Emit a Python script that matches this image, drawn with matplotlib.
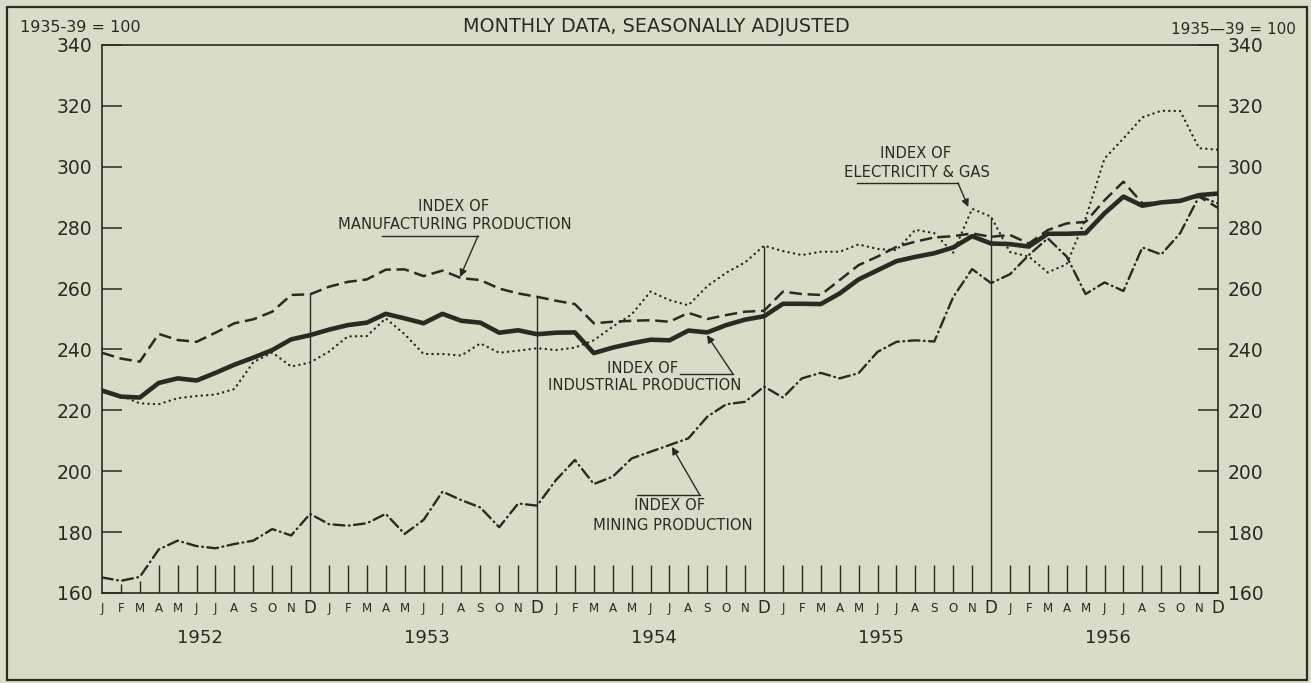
import numpy as np
import matplotlib
matplotlib.use("Agg")
import matplotlib.pyplot as plt
from matplotlib.transforms import blended_transform_factory
from matplotlib.patches import Rectangle

# ---------------- data ----------------
month_letters = ["J", "F", "M", "A", "M", "J", "J", "A", "S", "O", "N", "D"]
years = ["1952", "1953", "1954", "1955", "1956"]

industrial = [
    226.5, 224.5, 224.2, 229.0, 230.5, 229.8, 232.3, 235.0, 237.3, 239.8, 243.3, 244.7,
    246.5, 248.0, 248.8, 251.7, 250.2, 248.6, 251.7, 249.4, 248.8, 245.5, 246.3, 245.0,
    245.5, 245.6, 238.8, 240.6, 242.0, 243.2, 243.0, 246.2, 245.6, 248.0, 249.8, 250.9,
    255.0, 255.0, 254.9, 258.4, 263.0, 266.0, 269.0, 270.4, 271.6, 273.5, 277.2, 274.8,
    274.6, 273.8, 278.0, 278.0, 278.2, 284.7, 290.2, 287.2, 288.3, 288.8, 290.7, 291.2,
]
manufacturing = [
    238.9, 237.0, 236.0, 245.1, 243.1, 242.5, 245.5, 248.6, 249.9, 252.4, 257.9, 258.1,
    260.6, 262.2, 263.0, 266.2, 266.3, 264.1, 265.9, 263.4, 262.8, 260.0, 258.4, 257.3,
    256.0, 254.9, 248.6, 249.1, 249.4, 249.6, 249.1, 252.0, 250.0, 251.3, 252.4, 252.7,
    259.0, 258.2, 257.9, 262.8, 267.7, 270.5, 273.7, 275.4, 276.8, 277.2, 278.1, 277.0,
    277.6, 274.8, 279.2, 281.4, 281.9, 289.0, 295.1, 288.0, 288.3, 288.9, 290.2, 286.5,
]
electricity_gas = [
    226.8, 224.8, 222.3, 222.0, 224.0, 224.7, 225.2, 227.0, 235.8, 239.0, 234.4, 235.7,
    239.3, 244.3, 244.4, 250.2, 245.0, 238.5, 238.5, 238.0, 242.0, 238.9, 239.6, 240.4,
    239.8, 240.6, 243.0, 247.5, 251.5, 259.0, 256.2, 254.5, 260.8, 265.2, 268.6, 274.1,
    272.3, 271.0, 272.1, 272.1, 274.5, 273.0, 272.6, 279.3, 278.2, 271.8, 286.2, 283.6,
    272.0, 270.5, 265.3, 268.0, 283.0, 302.7, 309.3, 316.2, 318.4, 318.3, 306.1, 305.6,
]
mining = [
    165.1, 164.0, 165.3, 174.3, 177.2, 175.4, 174.7, 176.1, 177.2, 181.0, 178.9, 186.0,
    182.6, 182.1, 182.9, 186.0, 179.4, 184.0, 193.3, 190.5, 188.1, 181.6, 189.4, 188.7,
    197.1, 203.7, 195.8, 198.2, 204.2, 206.4, 208.6, 210.8, 217.9, 222.0, 222.8, 227.8,
    224.2, 230.5, 232.3, 230.5, 232.2, 239.2, 242.5, 243.0, 242.6, 257.2, 266.4, 261.8,
    264.7, 271.0, 276.5, 270.5, 258.2, 262.0, 259.2, 273.5, 271.2, 278.2, 290.3, 288.0,
]
y_ticks = [160, 180, 200, 220, 240, 260, 280, 300, 320, 340]

# ---------------- style ----------------
BG = "#d9ddc8"
INK = "#2a2a24"
plt.rcParams["font.family"] = ["DejaVu Sans"]

n = len(industrial)
x = np.arange(n)

fig = plt.figure(figsize=(13.11, 6.83), dpi=100, facecolor=BG)
ax = fig.add_axes([102 / 1311, 90 / 683, 1116 / 1311, 548 / 683], facecolor=BG)
ax.set_xlim(0, n - 1)
ax.set_ylim(160, 340)

# series
ax.plot(x, electricity_gas, color=INK, lw=1.7, linestyle=(0, (0.1, 2.2)),
        dash_capstyle="round", zorder=3)
ax.plot(x, mining, color=INK, lw=1.7, linestyle=(0, (4.6, 1.9, 0.3, 1.9)),
        dash_capstyle="round", zorder=3)
ax.plot(x, manufacturing, color=INK, lw=1.8, linestyle=(0, (5.0, 2.3)), zorder=4)
ax.plot(x, industrial, color=INK, lw=3.3, solid_joinstyle="round", zorder=5)

# December year separator lines and monthly ticks
allser = np.vstack([industrial, manufacturing, electricity_gas, mining])
dec_idx = [i for i in range(11, n - 1, 12)]
for i in dec_idx:
    ax.vlines(i, 160, allser[:, i].max(), color=INK, lw=1.0, zorder=2)
tick_idx = [i for i in range(1, n - 1) if (i % 12) != 11]
tick_top = np.minimum(169.3, np.array(mining)[tick_idx] - 1.2)
ax.vlines(tick_idx, 160, tick_top, color=INK, lw=1.0, zorder=2)

# axes
for s in ax.spines.values():
    s.set_color(INK)
    s.set_linewidth(1.2)
ax.set_xticks([])
ax.set_yticks(y_ticks)
ax.set_yticklabels([str(v) for v in y_ticks])
ax.tick_params(axis="y", which="both", left=True, right=True, labelleft=True,
               labelright=True, direction="in", length=14.5, width=1.1,
               color=INK, labelcolor=INK, labelsize=13.5, pad=7)

# month letters and years
tr = blended_transform_factory(ax.transData, ax.transAxes)
for i in range(n):
    m = month_letters[i % 12]
    if m == "D":
        ax.text(i, -0.0275, m, transform=tr, ha="center", va="center",
                fontsize=12, color=INK)
    else:
        ax.text(i, -0.0275, m, transform=tr, ha="center", va="center",
                fontsize=8.6, color=INK)
for k, yr in enumerate(years):
    ax.text(12 * k + 5.2, -0.083, yr, transform=tr, ha="center", va="center",
            fontsize=13, color=INK)

# annotations
lab = dict(fontsize=10.6, color=INK, ha="center", va="center")
arr = dict(arrowstyle="-|>", color=INK, lw=1.0, mutation_scale=11,
           shrinkA=0, shrinkB=0)

# manufacturing
ax.text(18.6, 286.8, "INDEX OF", **lab)
ax.text(18.66, 280.9, "MANUFACTURING PRODUCTION", **lab)
ax.plot([14.8, 19.88], [277.3, 277.3], color=INK, lw=1.0)
ax.annotate("", xy=(18.93, 263.8), xytext=(19.88, 277.3), arrowprops=arr)

# industrial
ax.text(28.6, 233.9, "INDEX OF", **lab)
ax.text(28.7, 228.0, "INDUSTRIAL PRODUCTION", **lab)
ax.plot([30.56, 33.36], [231.9, 231.9], color=INK, lw=1.0)
ax.annotate("", xy=(31.98, 244.7), xytext=(33.36, 231.9), arrowprops=arr)

# mining
ax.text(30.0, 188.6, "INDEX OF", **lab)
ax.text(30.2, 182.3, "MINING PRODUCTION", **lab)
ax.plot([28.28, 31.6], [192.2, 192.2], color=INK, lw=1.0)
ax.annotate("", xy=(30.13, 208.0), xytext=(31.6, 192.2), arrowprops=arr)

# electricity & gas
ax.text(43.0, 304.2, "INDEX OF", **lab)
ax.text(43.1, 298.0, "ELECTRICITY & GAS", **lab)
ax.plot([39.9, 45.25], [294.7, 294.7], color=INK, lw=1.0)
ax.annotate("", xy=(45.8, 286.8), xytext=(45.25, 294.7), arrowprops=arr)

# header
fig.text(656 / 1311, 1 - 27 / 683, "MONTHLY DATA, SEASONALLY ADJUSTED",
         ha="center", va="center", fontsize=13.8, color=INK)
fig.text(20 / 1311, 1 - 27 / 683, "1935-39 = 100", ha="left", va="center",
         fontsize=11.5, color=INK)
fig.text(1296 / 1311, 1 - 29 / 683, "1935—39 = 100", ha="right", va="center",
         fontsize=11.0, color=INK)

# outer frame
fig.patches.append(Rectangle((7 / 1311, 3 / 683), 1300 / 1311, 673 / 683,
                             transform=fig.transFigure, fill=False,
                             edgecolor=INK, lw=1.6))

fig.savefig("out.png", dpi=100, facecolor=BG)
